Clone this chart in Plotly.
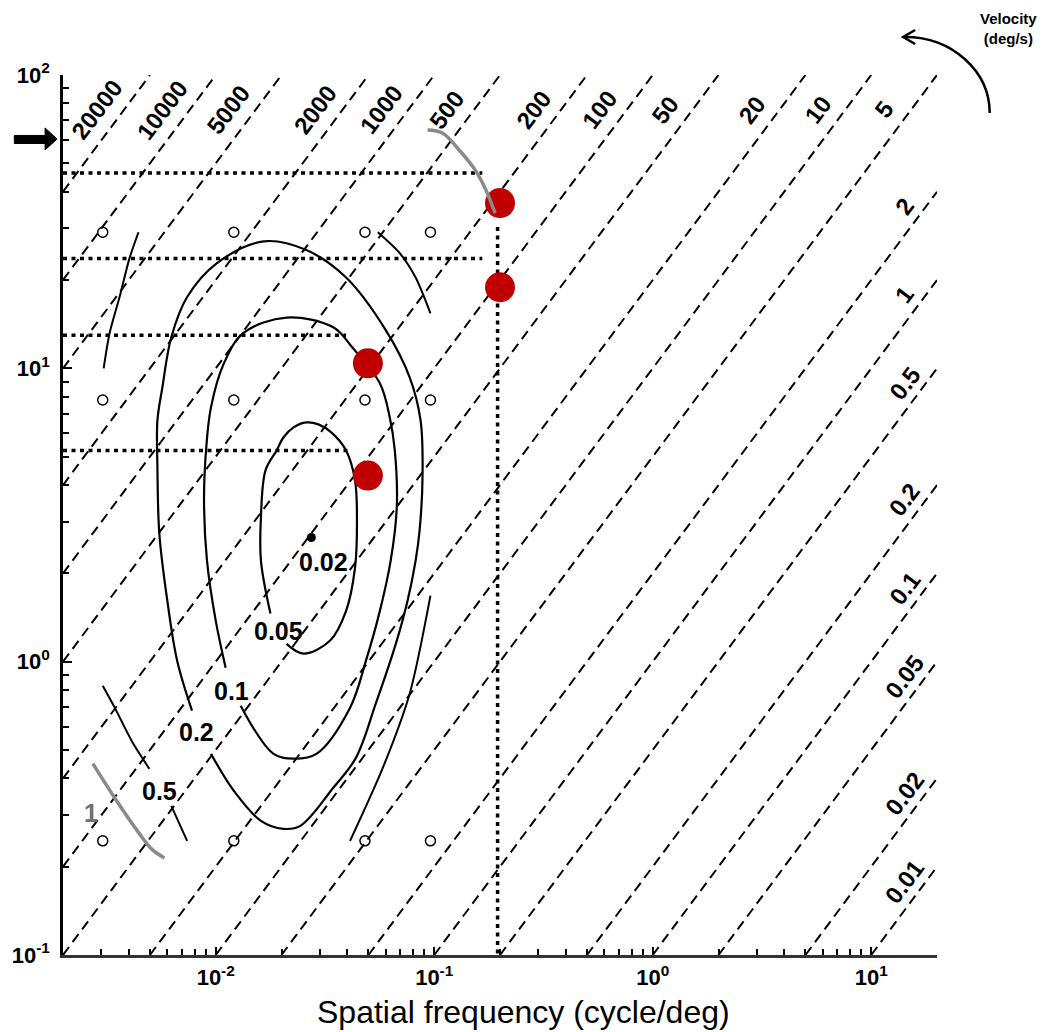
import numpy as np
import plotly.graph_objects as go

# ---------------- data ----------------
SF_MIN, SF_MAX = 0.002, 20.0
TF_MIN, TF_MAX = 0.1, 100.0

velocities = [20000, 10000, 5000, 2000, 1000, 500, 200, 100, 50, 20, 10, 5,
              2, 1, 0.5, 0.2, 0.1, 0.05, 0.02, 0.01]
velocity_labels = ["20000", "10000", "5000", "2000", "1000", "500", "200", "100",
                   "50", "20", "10", "5", "2", "1", "0.5", "0.2", "0.1", "0.05",
                   "0.02", "0.01"]

sample_sf = [0.00304, 0.0121, 0.0482, 0.0961]
sample_tf = [29.1, 7.8, 0.245]

peak_sf = [0.0274]
peak_tf = [2.65]

red_sf = [0.2, 0.2, 0.0497, 0.0497]
red_tf = [36.6, 18.9, 10.4, 4.31]

dotted_h_tf = [46.3, 23.7, 12.96, 5.25]
dotted_h_sf_end = [0.166, 0.166, 0.0395, 0.0405]
dotted_v_sf = 0.195
dotted_v_tf_top = 30.3

# contour 0.05 (inner)
c005_sf = [0.0178, 0.0161, 0.0161, 0.0169, 0.0190, 0.0204, 0.0227, 0.0260, 0.0295,
           0.0338, 0.0395, 0.0434, 0.0443, 0.0434, 0.0395, 0.0334, 0.0252, 0.0211]
c005_tf = [1.46, 2.21, 3.10, 4.49, 5.25, 5.81, 6.29, 6.54, 6.44,
           6.05, 5.25, 4.15, 2.96, 2.09, 1.49, 1.18, 1.065, 1.15]

# contour 0.1 (middle)
c01_sf = [0.0111, 0.0100, 0.00912, 0.00884, 0.00903, 0.00951, 0.0109, 0.0134, 0.0211,
          0.0345, 0.0425, 0.0564, 0.0626, 0.0660, 0.0674, 0.0632, 0.0564, 0.0487,
          0.0412, 0.0289, 0.0227, 0.0184, 0.0130]
c01_tf = [0.954, 1.38, 2.21, 3.54, 5.25, 7.36, 10.4, 13.2, 14.9,
          13.8, 11.7, 8.89, 6.80, 5.25, 3.36, 2.21, 1.49, 1.008,
          0.697, 0.485, 0.467, 0.485, 0.708]

# contour 0.2 (outer)
c02_sf = [0.00779, 0.00666, 0.00600, 0.00552, 0.00541, 0.00541, 0.00570, 0.00626,
          0.00740, 0.0101, 0.0166, 0.0260, 0.0395, 0.0600, 0.0772, 0.0866, 0.0884,
          0.0857, 0.0822, 0.0756, 0.0667, 0.0540, 0.0438, 0.0345, 0.0244, 0.0204,
          0.0161, 0.0121, 0.00951]
c02_tf = [0.681, 1.008, 1.62, 2.73, 4.59, 6.65, 8.61, 12.76,
          17.5, 22.8, 27.1, 25.3, 20.4, 13.5, 9.32, 6.65, 4.25,
          2.80, 2.21, 1.62, 1.15, 0.719, 0.470, 0.3715, 0.2756, 0.2692,
          0.2866, 0.363, 0.485]

# contour 0.5 (pieces)
c05_pieces_sf = [
    [0.00443, 0.00403, 0.00363, 0.00327, 0.00307],
    [0.0552, 0.0695, 0.0822, 0.0961],
    [0.00304, 0.00345, 0.00412, 0.00497],
    [0.00626, 0.00740],
    [0.0961, 0.0772, 0.0582, 0.0412],
]
c05_pieces_tf = [
    [29.1, 23.7, 17.5, 13.2, 10.0],
    [29.1, 24.7, 20.4, 15.4],
    [0.828, 0.697, 0.538, 0.431],
    [0.3225, 0.245],
    [1.68, 0.778, 0.435, 0.245],
]

# contour 1 (grey) and grey arc near top
c1_sf = [0.00274, 0.00345, 0.00438, 0.00508, 0.00582]
c1_tf = [0.449, 0.343, 0.265, 0.230, 0.2143]
grey_arc_sf = [0.0932, 0.109, 0.130, 0.154, 0.171, 0.190]
grey_arc_tf = [64.9, 63.4, 55.5, 47.4, 41.1, 33.8]

contour_labels = ["0.02", "0.05", "0.1", "0.2", "0.5"]
contour_label_sf = [0.0310, 0.0194, 0.01185, 0.00813, 0.00552]
contour_label_tf = [2.18, 1.276, 0.796, 0.577, 0.363]
grey_label_sf = 0.00268
grey_label_tf = 0.305

# ---------------- figure ----------------
FONT = "Liberation Sans, Arial, sans-serif"
fig = go.Figure()

# velocity iso-lines
for v in velocities:
    x0 = max(SF_MIN, TF_MIN / v)
    x1 = min(SF_MAX, TF_MAX / v)
    fig.add_trace(go.Scatter(x=[x0, x1], y=[v * x0, v * x1], mode="lines",
                             line=dict(color="black", width=2, dash="10px,6px"),
                             hoverinfo="skip", showlegend=False))

# contours
for sx, sy in [(c005_sf, c005_tf), (c01_sf, c01_tf), (c02_sf, c02_tf)]:
    fig.add_trace(go.Scatter(x=sx, y=sy, mode="lines",
                             line=dict(color="black", width=2.2, shape="spline", smoothing=1.0),
                             hoverinfo="skip", showlegend=False))
for sx, sy in zip(c05_pieces_sf, c05_pieces_tf):
    fig.add_trace(go.Scatter(x=sx, y=sy, mode="lines",
                             line=dict(color="black", width=2, shape="spline", smoothing=0.8),
                             hoverinfo="skip", showlegend=False))

# dotted guide lines
for tf, xe in zip(dotted_h_tf, dotted_h_sf_end):
    fig.add_trace(go.Scatter(x=[SF_MIN, xe], y=[tf, tf], mode="lines",
                             line=dict(color="black", width=3.5, dash="4px,4.5px"),
                             hoverinfo="skip", showlegend=False))
fig.add_trace(go.Scatter(x=[dotted_v_sf, dotted_v_sf], y=[dotted_v_tf_top, TF_MIN], mode="lines",
                         line=dict(color="black", width=3.5, dash="4px,4.5px"),
                         hoverinfo="skip", showlegend=False))

# sample points
gx, gy = np.meshgrid(sample_sf, sample_tf)
fig.add_trace(go.Scatter(x=gx.ravel(), y=gy.ravel(), mode="markers",
                         marker=dict(symbol="circle-open", size=10, color="black",
                                     line=dict(width=1.5, color="black")),
                         hoverinfo="skip", showlegend=False))
fig.add_trace(go.Scatter(x=peak_sf, y=peak_tf, mode="markers",
                         marker=dict(symbol="circle", size=9, color="black"),
                         hoverinfo="skip", showlegend=False))

# red points
fig.add_trace(go.Scatter(x=red_sf, y=red_tf, mode="markers",
                         marker=dict(symbol="circle", size=30, color="#C00000"),
                         hoverinfo="skip", showlegend=False))

# grey curves
for sx, sy in [(c1_sf, c1_tf), (grey_arc_sf, grey_arc_tf)]:
    fig.add_trace(go.Scatter(x=sx, y=sy, mode="lines",
                             line=dict(color="#8a8a8a", width=3.5, shape="spline", smoothing=1.0),
                             hoverinfo="skip", showlegend=False))

annotations = []
# velocity labels
for v, lab in zip(velocities, velocity_labels):
    if v >= 5:
        ly = 76.0
        lx = (ly / v) * 0.754
    else:
        lx = 14.2
        ly = 17.8 * v
    annotations.append(dict(x=np.log10(lx), y=np.log10(ly), xref="x", yref="y",
                            text="<b>" + lab + "</b>", showarrow=False, textangle=-53,
                            xanchor="center", yanchor="middle",
                            font=dict(family=FONT, size=24, color="black")))
# contour labels
for lab, sx, sy in zip(contour_labels, contour_label_sf, contour_label_tf):
    annotations.append(dict(x=np.log10(sx), y=np.log10(sy), xref="x", yref="y",
                            text="<b>" + lab + "</b>", showarrow=False,
                            xanchor="center", yanchor="middle",
                            font=dict(family=FONT, size=25, color="black")))
annotations.append(dict(x=np.log10(grey_label_sf), y=np.log10(grey_label_tf), xref="x", yref="y",
                        text="<b>1</b>", showarrow=False, xanchor="center", yanchor="middle",
                        font=dict(family=FONT, size=25, color="#707070")))
# axis title
annotations.append(dict(x=0.5267, y=-0.0648, xref="paper", yref="paper",
                        text="Spatial frequency (cycle/deg)", showarrow=False,
                        xanchor="center", yanchor="middle",
                        font=dict(family=FONT, size=32, color="black")))
# velocity legend text
annotations.append(dict(x=1.0820, y=1.0523, xref="paper", yref="paper",
                        text="<b>Velocity</b><br><b>(deg/s)</b>", showarrow=False,
                        xanchor="center", yanchor="middle",
                        font=dict(family=FONT, size=15, color="black")))

shapes = [
    dict(type="path", xref="paper", yref="paper",
         path="M -0.0557,0.9313 L -0.0205,0.9313 L -0.0205,0.9398 L -0.0068,0.9273 "
              "L -0.0205,0.9148 L -0.0205,0.9222 L -0.0557,0.9222 Z",
         fillcolor="black", line=dict(color="black", width=1)),
    dict(type="path", xref="paper", yref="paper",
         path="M 1.0603,0.9568 C 1.0603,1.0045 1.0171,1.0432 0.9636,1.0432",
         line=dict(color="black", width=2.5)),
    dict(type="path", xref="paper", yref="paper",
         path="M 0.9750,1.0511 L 0.9613,1.0432 L 0.9750,1.0352",
         line=dict(color="black", width=2.5)),
]

minor_vals = [d * 10.0 ** e for e in range(-4, 3) for d in range(2, 10)]

fig.update_layout(
    width=1046, height=1032,
    margin=dict(l=58, r=109, t=75, b=77),
    paper_bgcolor="white", plot_bgcolor="white",
    annotations=annotations, shapes=shapes,
    font=dict(family=FONT, color="black"),
)
fig.update_xaxes(type="log", range=[np.log10(SF_MIN), np.log10(SF_MAX)],
                 showgrid=False, zeroline=False,
                 showline=True, linecolor="#333333", linewidth=3,
                 ticks="inside", ticklen=8, tickwidth=1.5, tickcolor="black",
                 tickvals=[0.01, 0.1, 1, 10],
                 ticktext=["<b>10<sup>-2</sup></b>", "<b>10<sup>-1</sup></b>",
                           "<b>10<sup>0</sup></b>", "<b>10<sup>1</sup></b>"],
                 tickfont=dict(family=FONT, size=22, color="black"),
                 ticklabelstandoff=1,
                 minor=dict(ticks="inside", ticklen=6, tickwidth=1.5, tickcolor="black",
                            tickmode="array", tickvals=minor_vals, showgrid=False))
fig.update_yaxes(type="log", range=[np.log10(TF_MIN), np.log10(TF_MAX)],
                 showgrid=False, zeroline=False,
                 showline=True, linecolor="black", linewidth=2.5,
                 ticks="inside", ticklen=9, tickwidth=1.5, tickcolor="black",
                 tickvals=[0.1, 1, 10, 100],
                 ticktext=["<b>10<sup>-1</sup></b>", "<b>10<sup>0</sup></b>",
                           "<b>10<sup>1</sup></b>", "<b>10<sup>2</sup></b>"],
                 tickfont=dict(family=FONT, size=22, color="black"),
                 ticklabelstandoff=6,
                 minor=dict(ticks="inside", ticklen=6, tickwidth=1.5, tickcolor="black",
                            tickmode="array", tickvals=minor_vals, showgrid=False))

fig.write_html("out.html")
